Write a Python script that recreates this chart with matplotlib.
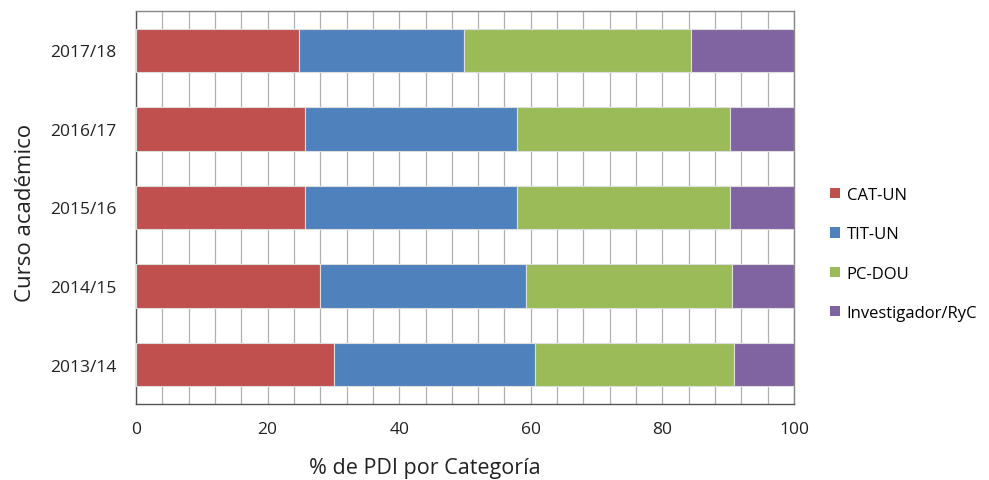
import matplotlib
matplotlib.use("Agg")
import matplotlib.pyplot as plt
from matplotlib.ticker import MultipleLocator

plt.rcParams['font.family'] = ['Open Sans', 'DejaVu Sans']

cursos = ["2013/14", "2014/15", "2015/16", "2016/17", "2017/18"]
series_names = ["CAT-UN", "TIT-UN", "PC-DOU", "Investigador/RyC"]
cat_un = [30.1, 28.0, 25.7, 25.7, 24.8]
tit_un = [30.5, 31.3, 32.2, 32.2, 25.0]
pc_dou = [30.3, 31.3, 32.4, 32.4, 34.5]
investigador = [9.1, 9.4, 9.7, 9.7, 15.7]
colors = ["#C0504D", "#4F81BD", "#9BBB59", "#8064A2"]

fig = plt.figure(figsize=(9.89, 4.81), dpi=100)
ax = fig.add_axes([136/989, 1-405/481, (794-136)/989, (405-12)/481])

data = [cat_un, tit_un, pc_dou, investigador]
left = [0.0]*len(cursos)
y = list(range(len(cursos)))
for name, vals, c in zip(series_names, data, colors):
    ax.barh(y, vals, left=left, height=0.55, color=c, edgecolor="#dddddd",
            linewidth=0.8, label=name, zorder=3)
    left = [l + v for l, v in zip(left, vals)]

ax.set_xlim(0, 100)
ax.set_ylim(-0.5, len(cursos)-0.5)
ax.set_yticks(y)
ax.set_yticklabels(cursos)
ax.xaxis.set_major_locator(MultipleLocator(20))
ax.xaxis.set_minor_locator(MultipleLocator(4))
ax.grid(True, axis='x', which='both', color="#b0b0b0", linewidth=0.9, zorder=0)
ax.tick_params(axis='both', which='both', length=0, labelsize=12.5, colors="#222222", pad=14)
ax.tick_params(axis='x', pad=12)
for s in ax.spines.values():
    s.set_color("#888888")
    s.set_linewidth(1.0)
ax.spines['left'].set_color("#555555")
ax.spines['bottom'].set_color("#555555")

ax.set_xlabel("% de PDI por Categoría", fontsize=15.5, color="#222222")
ax.xaxis.set_label_coords((425-136)/658, -(458-405)/393, transform=ax.transAxes)
ax.set_ylabel("Curso académico", fontsize=16, color="#222222")
ax.yaxis.set_label_coords(-(136-36)/658, 0.5 - (212-208)/393, transform=ax.transAxes)

handles, labels = ax.get_legend_handles_labels()
leg = fig.legend(handles, labels, loc='center left', bbox_to_anchor=(815/989, 1-255/481),
                 frameon=False, fontsize=12, handlelength=0.6, handleheight=0.6,
                 handletextpad=0.4, labelspacing=1.4)
for h in leg.legend_handles:
    h.set_edgecolor('none')

fig.savefig("out.png", dpi=100)
